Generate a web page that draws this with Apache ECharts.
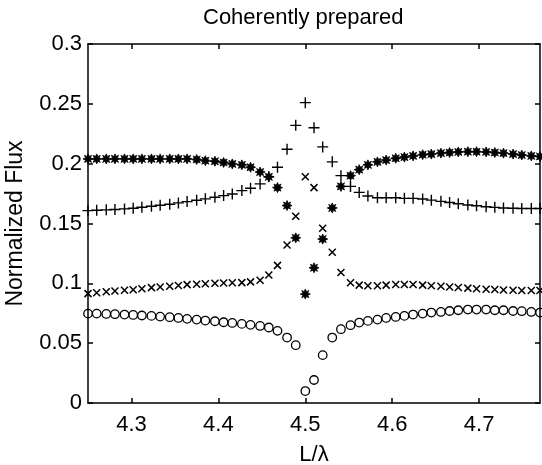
<!DOCTYPE html>
<html>
<head>
<meta charset="utf-8">
<script src="https://cdn.jsdelivr.net/npm/echarts@6/dist/echarts.min.js"></script>
<style>
  html, body { margin: 0; padding: 0; background: #fff; }
  #main { width: 542px; height: 465px; }
</style>
</head>
<body>
<div id="main"></div>
<script>
var chartDom = document.getElementById('main');
var myChart = echarts.init(chartDom);

// L/lambda sample points
var xs = [4.250, 4.260, 4.271, 4.281, 4.292, 4.302, 4.312, 4.323, 4.333, 4.344,
  4.354, 4.364, 4.375, 4.385, 4.396, 4.406, 4.416, 4.427, 4.437, 4.448,
  4.458, 4.468, 4.479, 4.489, 4.500, 4.510, 4.520, 4.531, 4.541, 4.552,
  4.562, 4.572, 4.583, 4.593, 4.604, 4.614, 4.624, 4.635, 4.645, 4.656,
  4.666, 4.676, 4.687, 4.697, 4.708, 4.718, 4.728, 4.739, 4.749, 4.760, 4.770];

// asterisks
var starVals = [0.204, 0.204, 0.204, 0.204, 0.204, 0.204, 0.204, 0.204, 0.204, 0.204,
  0.204, 0.204, 0.2035, 0.2025, 0.202, 0.201, 0.1998, 0.199, 0.197, 0.193,
  0.189, 0.180, 0.165, 0.138, 0.091, 0.113, 0.137, 0.163, 0.181, 0.190,
  0.195, 0.199, 0.2015, 0.203, 0.2045, 0.2055, 0.2065, 0.2075, 0.208, 0.2088,
  0.2093, 0.2098, 0.210, 0.210, 0.2098, 0.2093, 0.2088, 0.208, 0.2072, 0.2065, 0.206];

// plus signs
var plusVals = [0.1608, 0.1611, 0.1614, 0.1617, 0.1622, 0.1628, 0.1636, 0.1644, 0.1653, 0.1661,
  0.1672, 0.1683, 0.1694, 0.1706, 0.1719, 0.1733, 0.1747, 0.1775, 0.1794, 0.1831,
  0.189, 0.197, 0.212, 0.232, 0.251, 0.230, 0.214, 0.2015, 0.190, 0.181,
  0.176, 0.173, 0.1715, 0.1715, 0.1715, 0.171, 0.171, 0.1705, 0.1695, 0.1685,
  0.1675, 0.1665, 0.1655, 0.1648, 0.164, 0.1635, 0.163, 0.1627, 0.1625, 0.1625, 0.1625];

// crosses
var crossVals = [0.0914, 0.0922, 0.0930, 0.0936, 0.0942, 0.0947, 0.0955, 0.0964, 0.0970, 0.0975,
  0.0982, 0.0989, 0.0993, 0.0997, 0.1000, 0.1003, 0.1005, 0.1006, 0.1012, 0.1025,
  0.107, 0.115, 0.132, 0.156, 0.189, 0.180, 0.146, 0.126, 0.109, 0.1005,
  0.0985, 0.098, 0.098, 0.0985, 0.099, 0.099, 0.099, 0.0985, 0.098, 0.0975,
  0.097, 0.0965, 0.096, 0.0955, 0.095, 0.0948, 0.0945, 0.0942, 0.094, 0.094, 0.094];

// circles
var circleVals = [0.0747, 0.0747, 0.0744, 0.0742, 0.0739, 0.0736, 0.0731, 0.0728, 0.0722, 0.0717,
  0.0711, 0.0703, 0.0697, 0.0689, 0.0683, 0.0675, 0.0669, 0.0661, 0.0653, 0.0644,
  0.0631, 0.0603, 0.0547, 0.0483, 0.010, 0.0192, 0.040, 0.0547, 0.0617, 0.065,
  0.0672, 0.0686, 0.0697, 0.0711, 0.0719, 0.0728, 0.0739, 0.0747, 0.0756, 0.0761,
  0.0769, 0.0775, 0.0781, 0.0781, 0.0781, 0.0775, 0.0775, 0.0769, 0.0767, 0.0761, 0.0756];

var xTicks = [4.3, 4.4, 4.5, 4.6, 4.7];

var font = '"Liberation Sans", Arial, Helvetica, sans-serif';
var axisColor = '#000';

function pairs(vals) {
  return xs.map(function (x, i) { return [x, vals[i]]; });
}

var starPath = 'path://M10,5L7.4,6.2L8.54,8.54L6.2,7.4L5,10L3.8,7.4L1.46,8.54L2.6,6.2L0,5L2.6,3.8L1.46,1.46L3.8,2.6L5,0L6.2,2.6L8.54,1.46L7.4,3.8Z';
var plusPath = 'path://M5,0L5,10M0,5L10,5';
var crossPath = 'path://M0,0L10,10M10,0L0,10';

var lineStyle = { color: axisColor, width: 1.5 };

var option = {
  animation: false,
  backgroundColor: '#fff',
  title: {
    text: 'Coherently prepared',
    left: 203,
    top: 7,
    padding: 0,
    textStyle: {
      fontFamily: font,
      fontSize: 22,
      fontWeight: 'normal',
      color: '#000'
    }
  },
  grid: {
    left: 88,
    right: 2,
    top: 44,
    bottom: 62,
    containLabel: false,
    outerBoundsMode: 'none'
  },
  xAxis: [
    {
      type: 'value',
      position: 'bottom',
      min: 4.25,
      max: 4.77,
      name: 'L/λ',
      nameLocation: 'middle',
      nameGap: 41,
      nameMoveOverlap: false,
      nameTextStyle: { fontFamily: font, fontSize: 22, color: '#000' },
      axisLine: { onZero: false, lineStyle: lineStyle },
      axisTick: { inside: true, length: 5, customValues: xTicks, lineStyle: lineStyle },
      axisLabel: { customValues: xTicks, margin: 11, fontFamily: font, fontSize: 22, color: '#000' },
      splitLine: { show: false }
    },
    {
      type: 'value',
      position: 'top',
      min: 4.25,
      max: 4.77,
      axisLine: { onZero: false, lineStyle: lineStyle },
      axisTick: { inside: true, length: 5, customValues: xTicks, lineStyle: lineStyle },
      axisLabel: { show: false },
      splitLine: { show: false }
    }
  ],
  yAxis: [
    {
      type: 'value',
      position: 'left',
      min: 0,
      max: 0.3,
      interval: 0.05,
      name: 'Normalized Flux',
      nameLocation: 'middle',
      nameGap: 61,
      nameMoveOverlap: false,
      nameTextStyle: { fontFamily: font, fontSize: 23, color: '#000' },
      axisLine: { show: true, onZero: false, lineStyle: lineStyle },
      axisTick: { show: true, inside: true, length: 5, lineStyle: lineStyle },
      axisLabel: { margin: 6, fontFamily: font, fontSize: 22, color: '#000' },
      splitLine: { show: false }
    },
    {
      type: 'value',
      position: 'right',
      min: 0,
      max: 0.3,
      interval: 0.05,
      axisLine: { show: true, onZero: false, lineStyle: lineStyle },
      axisTick: { show: true, inside: true, length: 5, lineStyle: lineStyle },
      axisLabel: { show: false },
      splitLine: { show: false }
    }
  ],
  series: [
    {
      name: 'asterisk',
      type: 'scatter',
      data: pairs(starVals),
      symbol: starPath,
      symbolSize: 10,
      itemStyle: { color: '#000', borderColor: '#000', borderWidth: 0.8, opacity: 1 }
    },
    {
      name: 'plus',
      type: 'scatter',
      data: pairs(plusVals),
      symbol: plusPath,
      symbolSize: 11,
      itemStyle: { color: 'rgba(0,0,0,0)', borderColor: '#000', borderWidth: 1.4, opacity: 1 }
    },
    {
      name: 'cross',
      type: 'scatter',
      data: pairs(crossVals),
      symbol: crossPath,
      symbolSize: 7,
      itemStyle: { color: 'rgba(0,0,0,0)', borderColor: '#000', borderWidth: 1.5, opacity: 1 }
    },
    {
      name: 'circle',
      type: 'scatter',
      data: pairs(circleVals),
      symbol: 'circle',
      symbolSize: 8.5,
      itemStyle: { color: 'rgba(0,0,0,0)', borderColor: '#000', borderWidth: 1.3, opacity: 1 }
    }
  ]
};

if (option && typeof option === 'object') {
  myChart.setOption(option);
}

window.addEventListener('resize', myChart.resize);
</script>
</body>
</html>
